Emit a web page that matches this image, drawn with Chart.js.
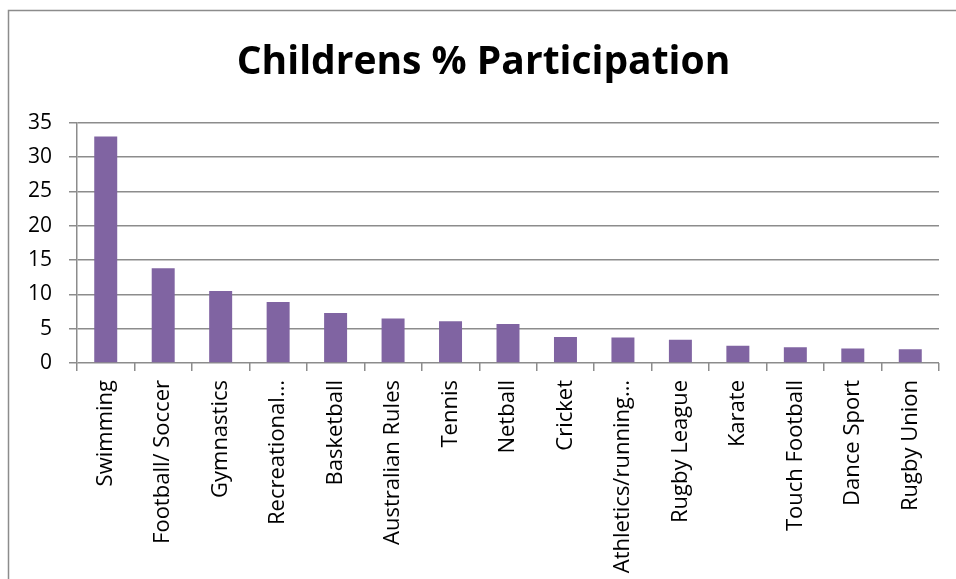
<!DOCTYPE html>
<html>
<head>
<meta charset="utf-8">
<script src="https://cdn.jsdelivr.net/npm/chart.js@4.4.1/dist/chart.umd.min.js"></script>
<style>
  body { margin: 0; background: #fff; }
  canvas { display: block; }
</style>
</head>
<body>
<canvas id="Chart" width="956" height="579"></canvas>
<script>
var sports = ['Swimming', 'Football/ Soccer', 'Gymnastics', 'Recreational…', 'Basketball',
  'Australian Rules', 'Tennis', 'Netball', 'Cricket', 'Athletics/running…',
  'Rugby League', 'Karate', 'Touch Football', 'Dance Sport', 'Rugby Union'];
var participation = [33.0, 13.8, 10.5, 8.9, 7.3, 6.5, 6.1, 5.7, 3.8, 3.7, 3.4, 2.5, 2.3, 2.1, 2.0];
var yTicks = [0, 5, 10, 15, 20, 25, 30, 35];

var font = "'Open Sans', sans-serif";

// outer frame of the chart box
var framePlugin = {
  id: 'frame',
  beforeDraw: function (chart) {
    var c = chart.ctx;
    c.save();
    c.strokeStyle = '#8c8c8c';
    c.lineWidth = 1.5;
    c.beginPath();
    c.moveTo(8.5, 600);
    c.lineTo(8.5, 10.5);
    c.lineTo(960, 10.5);
    c.stroke();
    c.restore();
  }
};

document.addEventListener('DOMContentLoaded', function () {
  var ctx = document.getElementById('Chart').getContext('2d');

  var myChart = new Chart(ctx, {
    type: 'bar',
    data: {
      labels: sports,
      datasets: [{
        label: 'Childrens % Participation',
        data: participation,
        backgroundColor: '#8064a2',
        borderWidth: 0,
        barPercentage: 0.4,
        categoryPercentage: 1.0
      }]
    },
    options: {
      responsive: false,
      animation: false,
      layout: {
        padding: { left: 28, right: 17, top: 0, bottom: 0 }
      },
      plugins: {
        legend: { display: false },
        tooltip: { enabled: false },
        title: {
          display: true,
          text: 'Childrens % Participation',
          color: '#000',
          font: { family: font, size: 39, weight: 'bold' },
          padding: { top: 39, bottom: 37 }
        }
      },
      scales: {
        x: {
          grid: {
            offset: true,
            drawOnChartArea: false,
            color: '#8c8c8c',
            lineWidth: 1.5,
            tickLength: 8
          },
          border: { display: false },
          ticks: {
            color: '#000',
            font: { family: font, size: 22 },
            minRotation: 90,
            maxRotation: 90,
            autoSkip: false,
            padding: 9
          },
          afterFit: function (scale) { scale.height = 216; }
        },
        y: {
          min: 0,
          max: 35,
          afterBuildTicks: function (axis) {
            axis.ticks = yTicks.map(function (v) { return { value: v }; });
          },
          grid: {
            color: '#8c8c8c',
            lineWidth: 1.5,
            tickLength: 8
          },
          border: { color: '#8c8c8c', width: 1.5 },
          ticks: {
            color: '#000',
            font: { family: font, size: 21 },
            padding: 17
          },
          afterFit: function (scale) { scale.width = 49; }
        }
      }
    },
    plugins: [framePlugin]
  });
});
</script>
</body>
</html>
